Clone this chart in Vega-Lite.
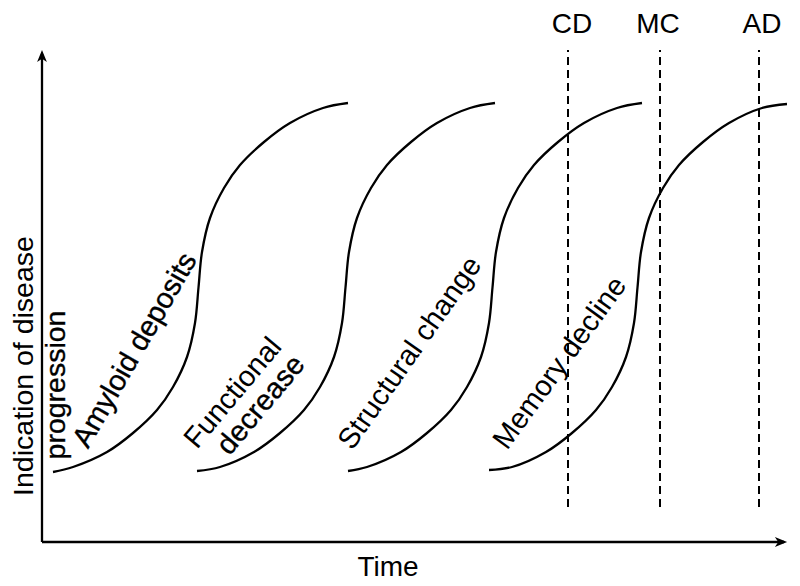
{
  "$schema": "https://vega.github.io/schema/vega-lite/v6.json",
  "width": 800,
  "height": 586,
  "autosize": "none",
  "padding": 0,
  "background": "white",
  "config": {"view": {"stroke": null}},
  "datasets": {
    "curves": [
      {"curve": "Amyloid deposits", "x": 11, "y": 70},
      {"curve": "Amyloid deposits", "x": 31, "y": 75},
      {"curve": "Amyloid deposits", "x": 65, "y": 90},
      {"curve": "Amyloid deposits", "x": 91, "y": 109},
      {"curve": "Amyloid deposits", "x": 115, "y": 132},
      {"curve": "Amyloid deposits", "x": 131, "y": 155},
      {"curve": "Amyloid deposits", "x": 145, "y": 185},
      {"curve": "Amyloid deposits", "x": 153, "y": 219},
      {"curve": "Amyloid deposits", "x": 156.5, "y": 254.5},
      {"curve": "Amyloid deposits", "x": 160, "y": 290},
      {"curve": "Amyloid deposits", "x": 168, "y": 324},
      {"curve": "Amyloid deposits", "x": 182, "y": 354},
      {"curve": "Amyloid deposits", "x": 198, "y": 377},
      {"curve": "Amyloid deposits", "x": 222, "y": 400},
      {"curve": "Amyloid deposits", "x": 248, "y": 419},
      {"curve": "Amyloid deposits", "x": 281, "y": 434},
      {"curve": "Amyloid deposits", "x": 306, "y": 439},
      {"curve": "Functional decrease", "x": 155, "y": 71},
      {"curve": "Functional decrease", "x": 178, "y": 75},
      {"curve": "Functional decrease", "x": 212, "y": 90},
      {"curve": "Functional decrease", "x": 238, "y": 109},
      {"curve": "Functional decrease", "x": 262, "y": 132},
      {"curve": "Functional decrease", "x": 278, "y": 155},
      {"curve": "Functional decrease", "x": 292, "y": 185},
      {"curve": "Functional decrease", "x": 300, "y": 219},
      {"curve": "Functional decrease", "x": 303.5, "y": 254.5},
      {"curve": "Functional decrease", "x": 307, "y": 290},
      {"curve": "Functional decrease", "x": 315, "y": 324},
      {"curve": "Functional decrease", "x": 329, "y": 354},
      {"curve": "Functional decrease", "x": 345, "y": 377},
      {"curve": "Functional decrease", "x": 369, "y": 400},
      {"curve": "Functional decrease", "x": 395, "y": 419},
      {"curve": "Functional decrease", "x": 428, "y": 434},
      {"curve": "Functional decrease", "x": 453, "y": 439},
      {"curve": "Structural change", "x": 306, "y": 71},
      {"curve": "Structural change", "x": 325, "y": 75},
      {"curve": "Structural change", "x": 359, "y": 90},
      {"curve": "Structural change", "x": 385, "y": 109},
      {"curve": "Structural change", "x": 409, "y": 132},
      {"curve": "Structural change", "x": 425, "y": 155},
      {"curve": "Structural change", "x": 439, "y": 185},
      {"curve": "Structural change", "x": 447, "y": 219},
      {"curve": "Structural change", "x": 450.5, "y": 254.5},
      {"curve": "Structural change", "x": 454, "y": 290},
      {"curve": "Structural change", "x": 462, "y": 324},
      {"curve": "Structural change", "x": 476, "y": 354},
      {"curve": "Structural change", "x": 492, "y": 377},
      {"curve": "Structural change", "x": 516, "y": 400},
      {"curve": "Structural change", "x": 542, "y": 419},
      {"curve": "Structural change", "x": 575, "y": 434},
      {"curve": "Structural change", "x": 600, "y": 439},
      {"curve": "Memory decline", "x": 447, "y": 72},
      {"curve": "Memory decline", "x": 470, "y": 75},
      {"curve": "Memory decline", "x": 504, "y": 90},
      {"curve": "Memory decline", "x": 530, "y": 109},
      {"curve": "Memory decline", "x": 554, "y": 132},
      {"curve": "Memory decline", "x": 570, "y": 155},
      {"curve": "Memory decline", "x": 584, "y": 185},
      {"curve": "Memory decline", "x": 592, "y": 219},
      {"curve": "Memory decline", "x": 595.5, "y": 254.5},
      {"curve": "Memory decline", "x": 599, "y": 290},
      {"curve": "Memory decline", "x": 607, "y": 324},
      {"curve": "Memory decline", "x": 621, "y": 354},
      {"curve": "Memory decline", "x": 637, "y": 377},
      {"curve": "Memory decline", "x": 661, "y": 400},
      {"curve": "Memory decline", "x": 687, "y": 419},
      {"curve": "Memory decline", "x": 720, "y": 434},
      {"curve": "Memory decline", "x": 745, "y": 438}
    ],
    "axes": [
      {"axis": "Time", "x": 0, "y": 0, "x2": 742, "y2": 0},
      {"axis": "Indication", "x": 0, "y": 0, "x2": 0, "y2": 488}
    ],
    "stages": [
      {"stage": "CD", "x": 526, "y": 35, "y2": 492},
      {"stage": "MC", "x": 618, "y": 35, "y2": 492},
      {"stage": "AD", "x": 717, "y": 35, "y2": 492}
    ]
  },
  "encoding": {
    "x": {"field": "x", "type": "quantitative", "scale": {"domain": [-42, 758], "nice": false, "zero": false}, "axis": null},
    "y": {"field": "y", "type": "quantitative", "scale": {"domain": [-44, 542], "nice": false, "zero": false}, "axis": null}
  },
  "layer": [
    {
      "data": {"name": "axes"},
      "mark": {"type": "rule", "strokeWidth": 2.3, "color": "black"},
      "encoding": {"x2": {"field": "x2"}, "y2": {"field": "y2"}}
    },
    {
      "data": {"values": [{"arrow": "Time", "x": 739, "y": 0}]},
      "mark": {"type": "point", "shape": "M1,0L-1,-0.8L-0.45,0L-1,0.8Z", "filled": true, "size": 150, "color": "black", "opacity": 1, "strokeWidth": 0}
    },
    {
      "data": {"values": [{"arrow": "Indication", "x": 0, "y": 486}]},
      "mark": {"type": "point", "shape": "M0,-1L0.8,1L0,0.45L-0.8,1Z", "filled": true, "size": 150, "color": "black", "opacity": 1, "strokeWidth": 0}
    },
    {
      "data": {"name": "stages"},
      "mark": {"type": "rule", "strokeWidth": 2, "strokeDash": [8, 5], "color": "black"},
      "encoding": {"y2": {"field": "y2"}}
    },
    {
      "data": {"name": "curves"},
      "mark": {"type": "line", "interpolate": "catmull-rom", "strokeWidth": 2.3, "color": "black"},
      "encoding": {"detail": {"field": "curve"}}
    },
    {
      "data": {"values": [
        {"text": "CD", "x": 530, "y": 509},
        {"text": "MC", "x": 616, "y": 509},
        {"text": "AD", "x": 720, "y": 509},
        {"text": "Time", "x": 346, "y": -34}
      ]},
      "mark": {"type": "text", "font": "Liberation Sans", "fontSize": 28, "align": "center", "baseline": "alphabetic", "color": "black"},
      "encoding": {"text": {"field": "text"}}
    },
    {
      "data": {"values": [{"text": "Indication of disease", "x": -9, "y": 176}]},
      "mark": {"type": "text", "font": "Liberation Sans", "fontSize": 28.5, "angle": 270, "align": "center", "baseline": "alphabetic", "color": "black"},
      "encoding": {"text": {"field": "text"}}
    },
    {
      "data": {"values": [{"text": "progression", "x": 23, "y": 157}]},
      "mark": {"type": "text", "font": "Liberation Sans", "fontSize": 28.5, "angle": 270, "align": "center", "baseline": "alphabetic", "color": "black", "stroke": "black", "strokeWidth": 0.35},
      "encoding": {"text": {"field": "text"}}
    },
    {
      "data": {"values": [{"text": "Amyloid deposits", "x": 93, "y": 192}]},
      "mark": {"type": "text", "font": "Liberation Sans", "fontSize": 29, "angle": 300, "align": "center", "baseline": "middle", "color": "black", "stroke": "black", "strokeWidth": 0.35},
      "encoding": {"text": {"field": "text"}}
    },
    {
      "data": {"values": [{"text": "Functional", "x": 191, "y": 149}]},
      "mark": {"type": "text", "font": "Liberation Sans", "fontSize": 29, "angle": 310, "align": "center", "baseline": "middle", "color": "black"},
      "encoding": {"text": {"field": "text"}}
    },
    {
      "data": {"values": [{"text": "decrease", "x": 219, "y": 137}]},
      "mark": {"type": "text", "font": "Liberation Sans", "fontSize": 29, "angle": 310, "align": "center", "baseline": "middle", "color": "black", "stroke": "black", "strokeWidth": 0.35},
      "encoding": {"text": {"field": "text"}}
    },
    {
      "data": {"values": [{"text": "Structural change", "x": 368, "y": 189}]},
      "mark": {"type": "text", "font": "Liberation Sans", "fontSize": 29, "angle": 305, "align": "center", "baseline": "middle", "color": "black"},
      "encoding": {"text": {"field": "text"}}
    },
    {
      "data": {"values": [{"text": "Memory decline", "x": 518, "y": 179}]},
      "mark": {"type": "text", "font": "Liberation Sans", "fontSize": 29, "angle": 306, "align": "center", "baseline": "middle", "color": "black"},
      "encoding": {"text": {"field": "text"}}
    }
  ]
}
